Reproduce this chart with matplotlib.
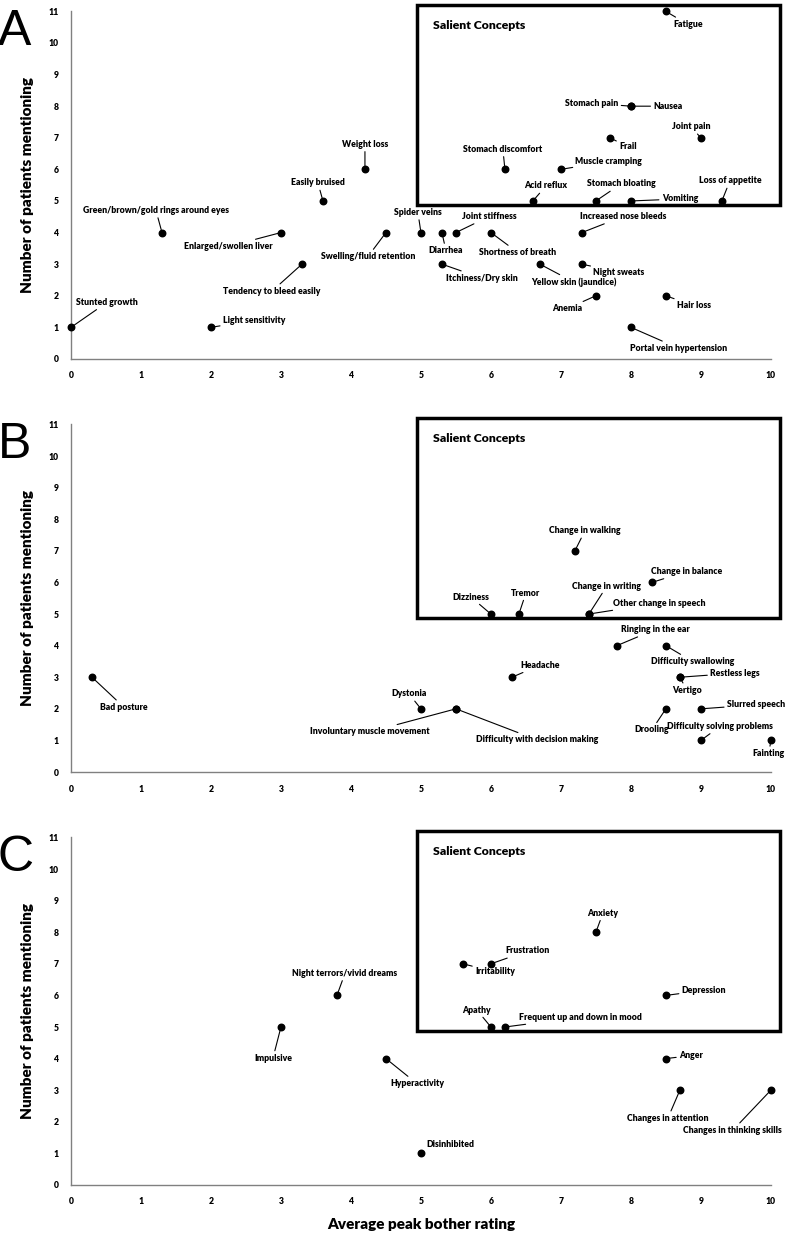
import matplotlib
matplotlib.use("Agg")
import matplotlib.pyplot as plt
from matplotlib.patches import Rectangle

# painel A - sintomas fisicos
a_labels = ["Stunted growth", "Light sensitivity", "Green/brown/gold rings around eyes",
            "Enlarged/swollen liver", "Tendency to bleed easily", "Easily bruised", "Weight loss",
            "Swelling/fluid retention", "Spider veins", "Diarrhea", "Joint stiffness",
            "Shortness of breath", "Itchiness/Dry skin", "Yellow skin (jaundice)", "Night sweats",
            "Increased nose bleeds", "Anemia", "Hair loss", "Portal vein hypertension",
            "Acid reflux", "Stomach bloating", "Vomiting", "Loss of appetite",
            "Stomach discomfort", "Muscle cramping", "Frail", "Joint pain",
            "Stomach pain", "Nausea", "Fatigue"]
a_rating = [0, 2, 1.3, 3, 3.3, 3.6, 4.2, 4.5, 5, 5.3, 5.5, 6, 5.3, 6.7, 7.3, 7.3, 7.5, 8.5, 8,
            6.6, 7.5, 8, 9.3, 6.2, 7, 7.7, 9, 8, 8, 8.5]
a_count = [1, 1, 4, 4, 3, 5, 6, 4, 4, 4, 4, 4, 3, 3, 3, 4, 2, 2, 1,
           5, 5, 5, 5, 6, 6, 7, 7, 8, 8, 11]

# painel B - sintomas neurologicos
b_labels = ["Bad posture", "Dystonia", "Involuntary muscle movement", "Difficulty with decision making",
            "Headache", "Dizziness", "Tremor", "Change in writing", "Other change in speech",
            "Change in walking", "Change in balance", "Ringing in the ear", "Difficulty swallowing",
            "Restless legs", "Vertigo", "Slurred speech", "Drooling", "Difficulty solving problems",
            "Fainting"]
b_rating = [0.3, 5, 5.5, 5.5, 6.3, 6, 6.4, 7.4, 7.4, 7.2, 8.3, 7.8, 8.5, 8.7, 8.7, 9, 8.5, 9, 10]
b_count = [3, 2, 2, 2, 3, 5, 5, 5, 5, 7, 6, 4, 4, 3, 3, 2, 2, 1, 1]

# painel C - sintomas psiquiatricos
c_labels = ["Impulsive", "Night terrors/vivid dreams", "Hyperactivity", "Disinhibited", "Apathy",
            "Frequent up and down in mood", "Irritability", "Frustration", "Anxiety", "Depression",
            "Anger", "Changes in attention", "Changes in thinking skills"]
c_rating = [3, 3.8, 4.5, 5, 6, 6.2, 5.6, 6, 7.5, 8.5, 8.5, 8.7, 10]
c_count = [5, 6, 4, 1, 5, 5, 7, 7, 8, 6, 4, 3, 3]

# deslocamento dos rotulos (pixels)
a_off = [(36, 25), (43, 7), (-6, 22), (-53, -14), (-30, -27), (-5, 18), (0, 25), (-18, -24),
         (-3, 20), (4, -18), (33, 16), (27, -20), (40, -14), (34, -18), (37, -8), (41, 16),
         (-29, -13), (28, -10), (48, -21), (13, 15), (25, 17), (49, 2), (8, 20), (-2, 20),
         (48, 8), (18, -9), (-10, 11), (-39, 3), (37, 0), (22, -13)]
b_off = [(32, -30), (-12, 15), (-86, -23), (81, -31), (28, 12), (-20, 17), (7, 21), (18, 28),
         (70, 11), (10, 20), (35, 11), (38, 16), (27, -16), (55, 4), (7, -13), (55, 4),
         (-14, -21), (19, 14), (-2, -13)]
c_off = [(-8, -31), (8, 22), (31, -25), (29, 9), (-14, 17), (76, 10), (32, -8), (37, 13),
         (7, 19), (38, 5), (25, 3), (-12, -28), (-38, -40)]

panels = [("A", a_labels, a_rating, a_count, a_off, 0.7103),
          ("B", b_labels, b_rating, b_count, b_off, 0.3769),
          ("C", c_labels, c_rating, c_count, c_off, 0.0436)]

fnt = "Lato"
wt = "heavy"
fig = plt.figure(figsize=(7.89, 12.39), dpi=100)

for letter, labels, xs, ys, offs, bottom in panels:
    ax = fig.add_axes([0.090, bottom, 0.887, 0.2805])
    ax.scatter(xs, ys, s=22, color="black", zorder=3, clip_on=False)
    for name, x, y, (dx, dy) in zip(labels, xs, ys, offs):
        props = dict(arrowstyle="-", color="black", lw=0.8, shrinkA=0, shrinkB=2)
        if name == "Disinhibited":
            props = None
        ax.annotate(name, (x, y), xytext=(dx, dy), textcoords="offset pixels",
                    ha="center", va="center", fontsize=6.2, fontweight=wt, family=fnt,
                    arrowprops=props, annotation_clip=False)
    ax.add_patch(Rectangle((4.95, 4.88), 5.18, 6.32, fill=False, lw=2.5, ec="black",
                           clip_on=False, zorder=2))
    ax.text(5.17, 10.55, "Salient Concepts", fontsize=8.8, fontweight=wt, family=fnt,
            va="center", ha="left")
    ax.set_xlim(0, 10)
    ax.set_ylim(0, 11)
    ax.set_xticks(range(0, 11))
    ax.set_yticks(range(0, 12))
    ax.tick_params(length=0, labelsize=6.2, pad=9)
    for t in ax.get_xticklabels() + ax.get_yticklabels():
        t.set_fontweight(wt)
        t.set_family(fnt)
    for s in ["top", "right"]:
        ax.spines[s].set_visible(False)
    for s in ["left", "bottom"]:
        ax.spines[s].set_color("#808080")
        ax.spines[s].set_linewidth(1)
    ax.set_ylabel("Number of patients mentioning", fontsize=11, fontweight=wt,
                  family=fnt, labelpad=10)
    if letter == "C":
        ax.set_xlabel("Average peak bother rating", fontsize=11, fontweight=wt,
                      family=fnt, labelpad=8)
    fig.text(-0.003, bottom + 0.2805 + 0.002, letter, fontsize=36, va="top", ha="left",
             family="Liberation Sans")

fig.savefig("out.png", dpi=100, facecolor="white")
